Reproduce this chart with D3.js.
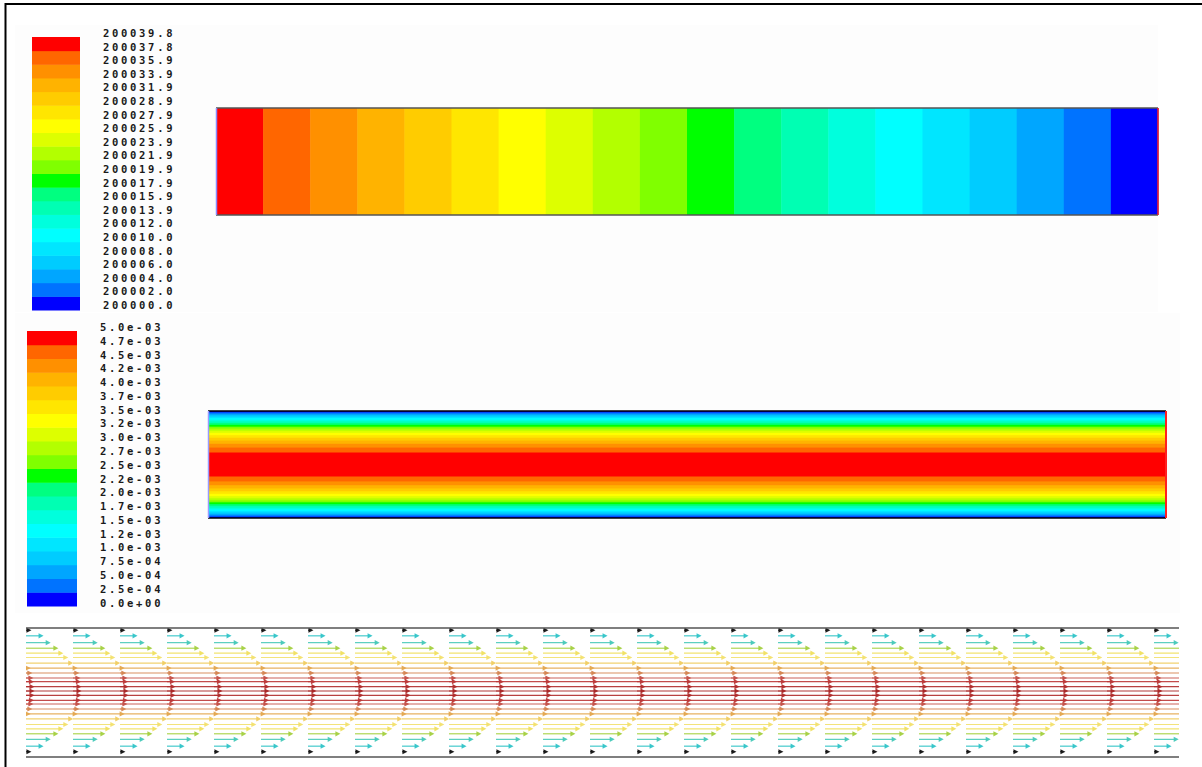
<!DOCTYPE html>
<html>
<head>
<meta charset="utf-8">
<script src="https://cdn.jsdelivr.net/npm/d3@7"></script>
<style>
  body { margin: 0; background: #fff; }
  svg { display: block; }
</style>
</head>
<body>
<div id="chart"></div>
<script>
// level colours, level 0 (lowest, blue) .. level 19 (highest, red)
const levelColors = ["#0000ff", "#0073ff", "#00a6ff", "#00ccff", "#00e6ff",
  "#00ffff", "#00ffdd", "#00ffb3", "#00ff80", "#00ff00",
  "#80ff00", "#b3ff00", "#ddff00", "#ffff00", "#ffe600",
  "#ffcc00", "#ffb300", "#ff9000", "#ff6600", "#ff0000"];

// legend tick labels, top to bottom
const pressureLabels = ["200039.8", "200037.8", "200035.9", "200033.9", "200031.9",
  "200028.9", "200027.9", "200025.9", "200023.9", "200021.9", "200019.9",
  "200017.9", "200015.9", "200013.9", "200012.0", "200010.0", "200008.0",
  "200006.0", "200004.0", "200002.0", "200000.0"];
const velocityLabels = ["5.0e-03", "4.7e-03", "4.5e-03", "4.2e-03", "4.0e-03",
  "3.7e-03", "3.5e-03", "3.2e-03", "3.0e-03", "2.7e-03", "2.5e-03",
  "2.2e-03", "2.0e-03", "1.7e-03", "1.5e-03", "1.2e-03", "1.0e-03",
  "7.5e-04", "5.0e-04", "2.5e-04", "0.0e+00"];

// pressure contour: level of each cell along the channel, inlet -> outlet
const pressureCells = [19, 18, 17, 16, 15, 14, 13, 12, 11, 10, 9, 8, 7, 6, 5, 4, 3, 2, 1, 0];

// velocity contour: half-width (fraction of half channel) inside which each level is reached
const velocityEdges = [1.0, 0.975, 0.949, 0.922, 0.894, 0.866, 0.837, 0.806, 0.775, 0.742,
  0.707, 0.671, 0.632, 0.592, 0.548, 0.5, 0.447, 0.387, 0.316, 0.224];

// velocity vectors: row position across channel (-1..1), relative speed, colour
const rowEta = [-0.98, -0.89, -0.78, -0.69, -0.61, -0.54, -0.45, -0.37, -0.29, -0.21, -0.15, -0.07, 0,
  0.07, 0.15, 0.21, 0.29, 0.37, 0.45, 0.54, 0.61, 0.69, 0.78, 0.89, 0.98];
const rowSpeed = [0.09, 0.31, 0.44, 0.58, 0.67, 0.76, 0.85, 0.93, 0.96, 0.98, 0.99, 1, 1,
  1, 0.99, 0.98, 0.96, 0.93, 0.85, 0.76, 0.67, 0.58, 0.44, 0.31, 0.09];
const rowColor = ["#111111", "#30c4c8", "#44c8b8", "#a4d040", "#f0e060", "#f2e06c", "#f0cc60",
  "#e4a850", "#d48450", "#c45048", "#bc3838", "#b02c2c", "#a82424",
  "#b02c2c", "#bc3838", "#c45048", "#d48450", "#e4a850", "#f0cc60", "#f2e06c", "#f0e060",
  "#a4d040", "#44c8b8", "#30c4c8", "#111111"];

const width = 1202, height = 767;
const levels = d3.range(levelColors.length);

const svg = d3.select("#chart").append("svg")
  .attr("width", width)
  .attr("height", height);

// frame (only top and left edges visible)
svg.append("line").attr("x1", 5).attr("x2", width).attr("y1", 4).attr("y2", 4)
  .attr("stroke", "#000").attr("stroke-width", 2);
svg.append("line").attr("x1", 5.5).attr("x2", 5.5).attr("y1", 3).attr("y2", height)
  .attr("stroke", "#000").attr("stroke-width", 2);

// faint panel backgrounds
svg.append("rect").attr("x", 15).attr("y", 25).attr("width", 1143).attr("height", 287).attr("fill", "#fdfdfd");
svg.append("rect").attr("x", 15).attr("y", 313).attr("width", 1165).attr("height", 300).attr("fill", "#fdfdfd");

function legend(labels, x0, x1, y0, y1, textX, ty0, ty1) {
  const g = svg.append("g");
  const y = d3.scaleBand().domain(levels.slice().reverse()).range([y0, y1]);
  g.selectAll("rect").data(levels).join("rect")
    .attr("x", x0).attr("width", x1 - x0)
    .attr("y", d => y(d)).attr("height", y.bandwidth() + 0.5)
    .attr("fill", d => levelColors[d]);
  const ty = d3.scalePoint().domain(labels).range([ty0, ty1]);
  g.selectAll("text").data(labels).join("text")
    .attr("x", textX).attr("y", d => ty(d))
    .attr("dominant-baseline", "central")
    .attr("font-family", "DejaVu Sans Mono, monospace")
    .attr("font-size", 10.5)
    .attr("font-weight", "bold")
    .attr("letter-spacing", 2.7)
    .attr("fill", "#1a1a1a")
    .text(d => d);
}

legend(pressureLabels, 32, 80, 37, 310, 103, 33, 305);
legend(velocityLabels, 27, 77, 331, 606, 100, 327, 602.5);

// pressure contour bar
{
  const x = d3.scaleBand().domain(d3.range(pressureCells.length)).range([216, 1158]);
  const g = svg.append("g");
  g.selectAll("rect").data(pressureCells).join("rect")
    .attr("x", (d, i) => x(i)).attr("width", x.bandwidth() + 0.5)
    .attr("y", 108).attr("height", 107)
    .attr("fill", d => levelColors[d]);
  g.append("line").attr("x1", 216).attr("x2", 1158).attr("y1", 108).attr("y2", 108).attr("stroke", "#555").attr("stroke-width", 1.5);
  g.append("line").attr("x1", 216).attr("x2", 1158).attr("y1", 215).attr("y2", 215).attr("stroke", "#555").attr("stroke-width", 1.5);
  g.append("line").attr("x1", 216.5).attr("x2", 216.5).attr("y1", 108).attr("y2", 215).attr("stroke", "#8a8aff").attr("stroke-width", 1.5);
  g.append("line").attr("x1", 1158).attr("x2", 1158).attr("y1", 108).attr("y2", 215).attr("stroke", "#ff2020").attr("stroke-width", 1.5);
}

// velocity contour band
{
  const x0 = 208, x1 = 1166;
  const y = d3.scaleLinear().domain([-1, 1]).range([411, 518]);
  const g = svg.append("g");
  g.selectAll("rect").data(levels).join("rect")
    .attr("x", x0).attr("width", x1 - x0)
    .attr("y", d => y(-velocityEdges[d]))
    .attr("height", d => y(velocityEdges[d]) - y(-velocityEdges[d]))
    .attr("fill", d => levelColors[d]);
  g.append("line").attr("x1", x0).attr("x2", x1).attr("y1", 411).attr("y2", 411).attr("stroke", "#000").attr("stroke-width", 1.5);
  g.append("line").attr("x1", x0).attr("x2", x1).attr("y1", 518).attr("y2", 518).attr("stroke", "#000").attr("stroke-width", 1.5);
  g.append("line").attr("x1", x0 + 0.5).attr("x2", x0 + 0.5).attr("y1", 411).attr("y2", 518).attr("stroke", "#9a9aff").attr("stroke-width", 1.5);
  g.append("line").attr("x1", x1).attr("x2", x1).attr("y1", 411).attr("y2", 518).attr("stroke", "#ff2020").attr("stroke-width", 2);
}

// velocity vectors
{
  const vx0 = 26, vx1 = 1179, vy0 = 628, vy1 = 757;
  const y = d3.scaleLinear().domain([-1, 1]).range([629, 753]);
  const col = d3.scaleLinear().domain([0, 1]).range([vx0, vx0 + 47]);
  const len = d3.scaleLinear().domain([0, 1]).range([0, 55]);
  const cols = d3.range(-1, 25);

  svg.append("clipPath").attr("id", "vclip")
    .append("rect").attr("x", vx0).attr("y", vy0).attr("width", vx1 - vx0).attr("height", vy1 - vy0);

  const arrows = [];
  cols.forEach(c => rowEta.forEach((e, r) => arrows.push({ c, r })));

  const g = svg.append("g").attr("clip-path", "url(#vclip)");
  g.selectAll("line").data(arrows).join("line")
    .attr("x1", d => col(d.c))
    .attr("x2", d => col(d.c) + len(rowSpeed[d.r]) - 3)
    .attr("y1", d => y(rowEta[d.r]))
    .attr("y2", d => y(rowEta[d.r]))
    .attr("stroke", d => rowColor[d.r])
    .attr("stroke-opacity", 0.9)
    .attr("stroke-width", 1.2);
  g.selectAll("path").data(arrows).join("path")
    .attr("d", d => {
      const tx = col(d.c) + len(rowSpeed[d.r]), ty = y(rowEta[d.r]);
      return `M${tx + 0.5},${ty}L${tx - 4.5},${ty - 2.6}L${tx - 4.5},${ty + 2.6}Z`;
    })
    .attr("fill", d => rowColor[d.r])
    .attr("fill-opacity", 0.95);

  svg.append("line").attr("x1", vx0).attr("x2", vx1).attr("y1", vy0).attr("y2", vy0).attr("stroke", "#555").attr("stroke-width", 1.5);
  svg.append("line").attr("x1", vx0).attr("x2", vx1).attr("y1", vy1).attr("y2", vy1).attr("stroke", "#555").attr("stroke-width", 1.5);
}
</script>
</body>
</html>
